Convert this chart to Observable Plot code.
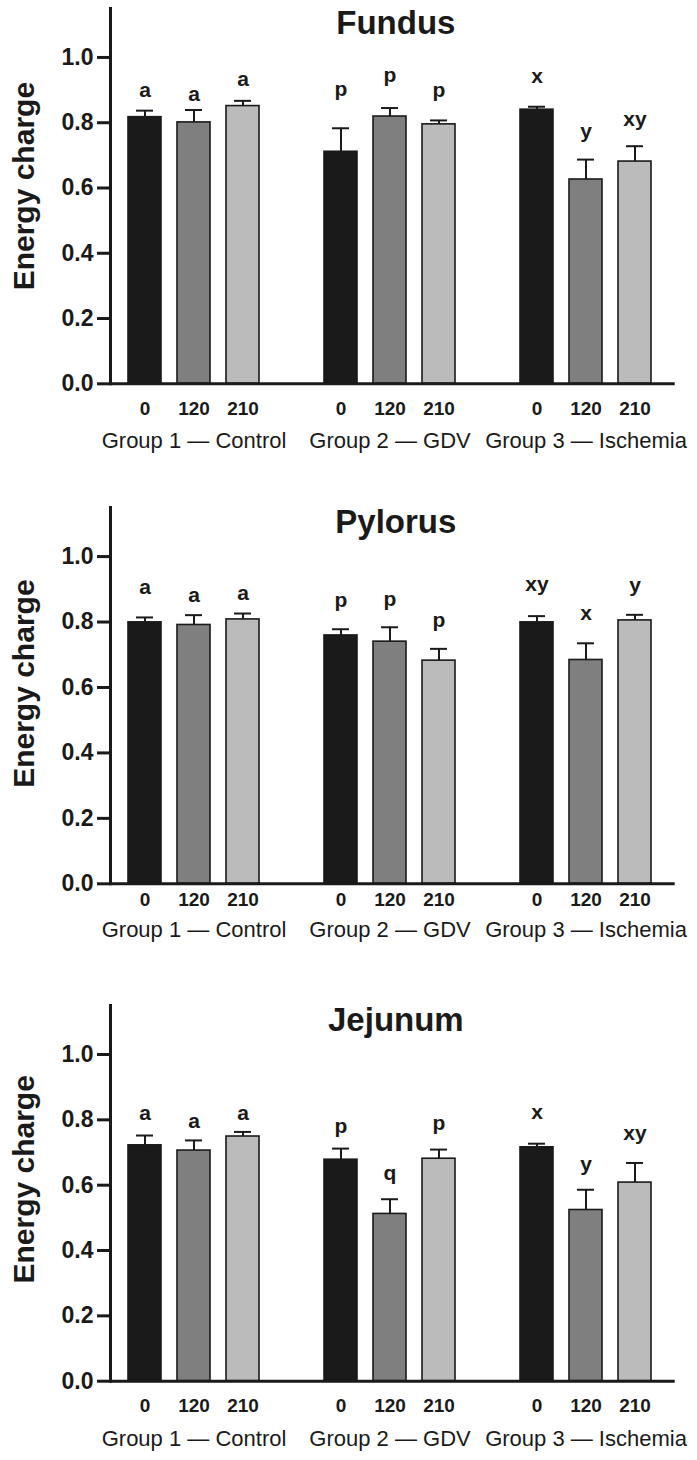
<!DOCTYPE html>
<html>
<head>
<meta charset="utf-8">
<script src="https://cdn.jsdelivr.net/npm/d3@7"></script>
<script src="https://cdn.jsdelivr.net/npm/@observablehq/plot@0.6"></script>
<style>
  html, body { margin: 0; padding: 0; background: #fff; }
  svg { display: block; }
</style>
</head>
<body>
<div id="chart"></div>
<script>
// ---- data ----
const tissues = ["Fundus", "Pylorus", "Jejunum"];
const groups = ["Group 1 — Control", "Group 2 — GDV", "Group 3 — Ischemia"];
const times = ["0", "120", "210"];
const yTicks = [0, 0.2, 0.4, 0.6, 0.8, 1.0];

const fundusMean = [0.817, 0.801, 0.851, 0.711, 0.819, 0.795, 0.840, 0.626, 0.681];
const fundusSem  = [0.020, 0.038, 0.016, 0.072, 0.026, 0.012, 0.009, 0.061, 0.047];
const fundusLetters = ["a", "a", "a", "p", "p", "p", "x", "y", "xy"];
const fundusLetterAt = [0.880, 0.868, 0.911, 0.883, 0.924, 0.878, 0.921, 0.752, 0.791];

const pylorusMean = [0.799, 0.791, 0.808, 0.759, 0.740, 0.682, 0.799, 0.684, 0.805];
const pylorusSem  = [0.015, 0.030, 0.018, 0.019, 0.044, 0.036, 0.019, 0.051, 0.017];
const pylorusLetters = ["a", "a", "a", "p", "p", "p", "xy", "x", "y"];
const pylorusLetterAt = [0.886, 0.860, 0.866, 0.847, 0.850, 0.784, 0.894, 0.807, 0.891];

const jejunumMean = [0.722, 0.706, 0.749, 0.678, 0.512, 0.681, 0.716, 0.524, 0.608];
const jejunumSem  = [0.030, 0.031, 0.014, 0.034, 0.045, 0.028, 0.011, 0.062, 0.060];
const jejunumLetters = ["a", "a", "a", "p", "q", "p", "x", "y", "xy"];
const jejunumLetterAt = [0.798, 0.775, 0.801, 0.760, 0.615, 0.768, 0.803, 0.643, 0.739];

// ---- build tables ----
const slots = [];
groups.forEach((g, gi) => {
  times.forEach(t => slots.push(`${gi}-${t}`));
  if (gi < groups.length - 1) slots.push(`gap${gi}`);
});

function rows(mean, sem, letters, letterAt) {
  const out = [];
  groups.forEach((g, gi) => times.forEach((t, ti) => {
    const i = gi * times.length + ti;
    out.push({group: g, time: t, slot: `${gi}-${t}`, mean: mean[i], err: mean[i] + sem[i],
              letter: letters[i], letterAt: letterAt[i]});
  }));
  return out;
}

const panels = [
  {name: tissues[0], data: rows(fundusMean, fundusSem, fundusLetters, fundusLetterAt),
   height: 495, marginTop: 8, marginBottom: 111.7, tickDy: 31, groupDy: 64, labelDy: -10},
  {name: tissues[1], data: rows(pylorusMean, pylorusSem, pylorusLetters, pylorusLetterAt),
   height: 495, marginTop: 12, marginBottom: 106.7, tickDy: 22, groupDy: 52.7, labelDy: -12},
  {name: tissues[2], data: rows(jejunumMean, jejunumSem, jejunumLetters, jejunumLetterAt),
   height: 470, marginTop: 15, marginBottom: 79.3, tickDy: 31, groupDy: 65, labelDy: -14}
];

const FONT = "'Liberation Sans', Arial, Helvetica, sans-serif";
const groupLabels = groups.map((g, gi) => ({group: g, slot: `${gi}-${times[1]}`}));

const chart = document.getElementById("chart");
for (const p of panels) {
  const svg = Plot.plot({
    width: 697,
    height: p.height,
    marginLeft: 110,
    marginRight: 22.3,
    marginTop: p.marginTop,
    marginBottom: p.marginBottom,
    style: {fontFamily: FONT, background: "#fff", color: "#1a1a1a", overflow: "visible"},
    x: {type: "band", domain: slots, paddingInner: 0.333, paddingOuter: 0.1665,
        insetLeft: 7, insetRight: 13, axis: null},
    y: {domain: [0, 1.15], axis: null},
    color: {domain: times, range: ["#1a1a1a", "#7f7f7f", "#bbbbbb"]},
    marks: [
      Plot.barY(p.data, {x: "slot", y: "mean", fill: "time", stroke: "#1a1a1a", strokeWidth: 1.6}),
      Plot.ruleX(p.data, {x: "slot", y1: "mean", y2: "err", stroke: "#1a1a1a", strokeWidth: 2}),
      Plot.tickY(p.data, {x: "slot", y: "err", stroke: "#1a1a1a", strokeWidth: 2, insetLeft: 8, insetRight: 8}),
      Plot.text(p.data, {x: "slot", y: "letterAt", text: "letter", lineAnchor: "bottom",
        fontSize: 21, fontWeight: "bold", fill: "#1a1a1a"}),
      Plot.axisY({ticks: yTicks, tickFormat: d3.format(".1f"), tickSize: 13, tickPadding: 4,
        strokeWidth: 3, fontSize: 23, fontWeight: "bold", label: null, fill: "#1a1a1a"}),
      Plot.ruleY([0], {stroke: "#1a1a1a", strokeWidth: 3}),
      Plot.frame({anchor: "left", stroke: "#1a1a1a", strokeWidth: 3}),
      Plot.text(p.data, {x: "slot", frameAnchor: "bottom", text: "time", dy: p.tickDy,
        lineAnchor: "bottom", fontSize: 19, fontWeight: "bold", fill: "#1a1a1a"}),
      Plot.text(groupLabels, {x: "slot", frameAnchor: "bottom", text: "group", dy: p.groupDy,
        lineAnchor: "bottom", fontSize: 22, fill: "#1a1a1a"}),
      Plot.text([p.name], {frameAnchor: "top", dy: 25.5, dx: 3, lineAnchor: "bottom",
        fontSize: 33, fontWeight: "bold", fill: "#1a1a1a"}),
      Plot.text(["Energy charge"], {frameAnchor: "left", textAnchor: "middle", rotate: -90,
        dx: -77, dy: p.labelDy, lineAnchor: "bottom", fontSize: 30, fontWeight: "bold", fill: "#1a1a1a"})
    ]
  });
  chart.appendChild(svg);
}
</script>
</body>
</html>
